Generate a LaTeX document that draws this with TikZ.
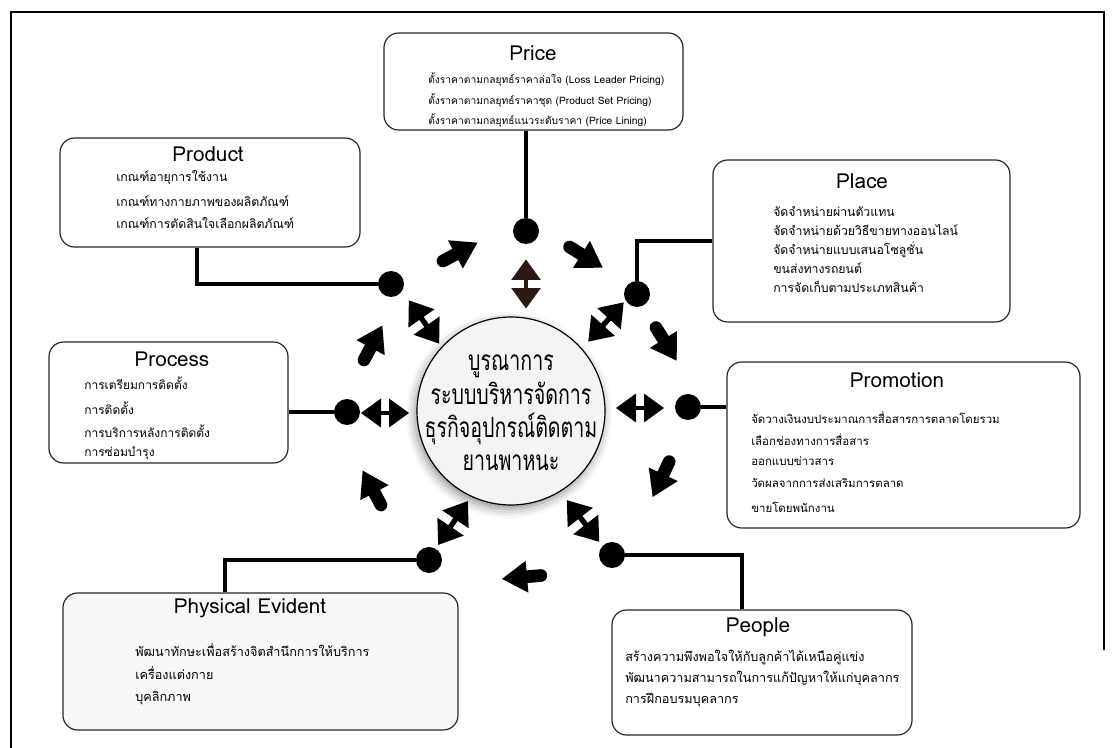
\documentclass[tikz,border=0pt]{standalone}
\usepackage{fontspec}
\setmainfont[Script=Thai]{Loma}
\newfontfamily\hubfont[Script=Thai, FakeStretch=0.7]{Loma}
\usetikzlibrary{fit,shadows.blur}

\tikzset{
  box/.style={draw=boxline, line width=0.9pt, rounded corners=11pt, inner sep=0pt},
  title/.style={inner sep=0pt, font=\fontsize{15.5}{18}\selectfont},
  item/.style={anchor=west, inner sep=0pt, font=\fontsize{#1}{11}\selectfont},
  item/.default=9.2,
  link/.style={line width=3.4pt},
  dot/.style={circle, fill=black, inner sep=0pt, minimum size=19.5pt},
  pics/fatarrow/.style={code={
    \draw[line width=9.5pt, line cap=round] (-17,0) -- (0,0);
    \fill (-3,-16) -- (22,0) -- (-3,16) -- cycle;
  }},
  pics/twohead/.style={code={
    \fill (-24,0) -- (-4,-14.5) -- (-4,14.5) -- cycle;
    \fill (24,0) -- (4,-14.5) -- (4,14.5) -- cycle;
    \fill (-5,-2.4) rectangle (5,2.4);
  }},
}

\begin{document}
\begin{tikzpicture}[x=0.75pt, y=-0.75pt]
  % Colors
  \colorlet{boxline}{black!85}
  \definecolor{hubfill}{HTML}{F4F4F5}
  \definecolor{physfill}{HTML}{F7F8FA}
  \definecolor{arrowbrown}{HTML}{2B1A16}

  \useasboundingbox (0,0) rectangle (1118,748);
  \draw[line width=1.8pt] (11,748) -- (11,12) -- (1104,12) -- (1104,650);

  % centre
  \node[circle, draw, line width=0.9pt, fill=hubfill, inner sep=0pt, minimum size=141pt,
        blur shadow={shadow xshift=-1.5pt, shadow yshift=-3pt, shadow blur radius=7pt, shadow opacity=45}]
        (hub) at (511,411) {};
  \node[align=center, inner sep=0pt, font=\hubfont\fontsize{21}{25}\selectfont] (hub-text) at (511,413)
        {บูรณาการ\\ระบบบริหารจัดการ\\ธุรกิจอุปกรณ์ติดตาม\\ยานพาหนะ};

  % Price
  \node[box, fit={(384,33) (683,130)}] (price) {};
  \node[title] (price-title) at (533,53) {Price};
  \foreach \t/\y [count=\i] in {ตั้งราคาตามกลยุทธ์ราคาล่อใจ (Loss Leader Pricing)/79,
                                ตั้งราคาตามกลยุทธ์ราคาชุด (Product Set Pricing)/100,
                                ตั้งราคาตามกลยุทธ์แนวระดับราคา (Price Lining)/120}
    \node[item=7.7] (price-\i) at (428,\y) {\t};

  % Product
  \node[box, fit={(60,138) (360,247)}] (product) {};
  \node[title] (product-title) at (208,154) {Product};
  \foreach \t/\y [count=\i] in {เกณฑ์อายุการใช้งาน/178, เกณฑ์ทางกายภาพของผลิตภัณฑ์/201,
                                เกณฑ์การตัดสินใจเลือกผลิตภัณฑ์/223}
    \node[item=9.2] (product-\i) at (116,\y) {\t};

  % Place
  \node[box, fit={(713,160) (1010,322)}] (place) {};
  \node[title] (place-title) at (862,181) {Place};
  \foreach \t/\y [count=\i] in {จัดจำหน่ายผ่านตัวแทน/212, จัดจำหน่ายด้วยวิธีขายทางออนไลน์/230,
                                จัดจำหน่ายแบบเสนอโซลูชั่น/250, ขนส่งทางรถยนต์/268,
                                การจัดเก็บตามประเภทสินค้า/287}
    \node[item=9.2] (place-\i) at (773,\y) {\t};

  % Process
  \node[box, fit={(49,342) (288,463)}] (process) {};
  \node[title] (process-title) at (172,359) {Process};
  \foreach \t/\y [count=\i] in {การเตรียมการติดตั้ง/383, การติดตั้ง/408,
                                การบริการหลังการติดตั้ง/431, การซ่อมบำรุง/453}
    \node[item=9] (process-\i) at (84,\y) {\t};

  % Promotion
  \node[box, fit={(727,362) (1080,528)}] (promotion) {};
  \node[title] (promotion-title) at (897,380) {Promotion};
  \foreach \t/\y [count=\i] in {จัดวางเงินงบประมาณการสื่อสารการตลาดโดยรวม/418,
                                เลือกช่องทางการสื่อสาร/440, ออกแบบข่าวสาร/461,
                                วัดผลจากการส่งเสริมการตลาด/483, ขายโดยพนักงาน/507}
    \node[item=8.6] (promotion-\i) at (751,\y) {\t};

  % Physical Evident
  \node[box, fill=physfill, fit={(63,593) (458,730)}] (physical) {};
  \node[title] (physical-title) at (250,608) {Physical Evident};
  \foreach \t/\y [count=\i] in {พัฒนาทักษะเพื่อสร้างจิตสำนึกการให้บริการ/650,
                                เครื่องแต่งกาย/673, บุคลิกภาพ/698}
    \node[item=9.5] (physical-\i) at (135,\y) {\t};

  % People
  \node[box, fit={(612,610) (912,735)}] (people) {};
  \node[title] (people-title) at (758,627) {People};
  \foreach \t/\y [count=\i] in {สร้างความพึงพอใจให้กับลูกค้าได้เหนือคู่แข่ง/657,
                                พัฒนาความสามารถในการแก้ปัญหาให้แก่บุคลากร/678,
                                การฝึกอบรมบุคลากร/700}
    \node[item=9.5] (people-\i) at (625,\y) {\t};

  % dots and links
  \node[dot] (priceDot) at (526,231) {};
  \node[dot] (productDot) at (391,284) {};
  \node[dot] (placeDot) at (637,294) {};
  \node[dot] (processDot) at (347,412) {};
  \node[dot] (promotionDot) at (688,407) {};
  \node[dot] (physicalDot) at (429,560) {};
  \node[dot] (peopleDot) at (612,555) {};

  \draw[link] (priceDot |- price.south) -- (priceDot);
  \draw[link] (197,0 |- product.south) |- (productDot);
  \draw[link] (placeDot) |- (place.west);
  \draw[link] (process.east |- processDot) -- (processDot);
  \draw[link] (promotionDot) -- (promotionDot -| promotion.west);
  \draw[link] (physicalDot) -| (225,0 |- physical.north);
  \draw[link] (peopleDot) -| (742,0 |- people.north);

  % two-headed arrows
  \pic[rotate=90, color=arrowbrown, scale=1.02] at (526,284) {twohead};
  \pic[rotate=-55, scale=1.1] at (424,322) {twohead};
  \pic[rotate=48, scale=1.1] at (606,322) {twohead};
  \pic at (385,413) {twohead};
  \pic at (640,408) {twohead};
  \pic[rotate=56, scale=1.1] at (453,523) {twohead};
  \pic[rotate=-52, scale=1.1] at (583,521) {twohead};

  % cycle arrows
  \foreach \p/\a in {{(458,253)}/28, {(584,256)}/-32, {(665,342)}/-58, {(662,477)}/-115,
                     {(524,577)}/185, {(373,490)}/118, {(372,345)}/62}
    \pic[rotate=\a] at \p {fatarrow};
\end{tikzpicture}
\end{document}
